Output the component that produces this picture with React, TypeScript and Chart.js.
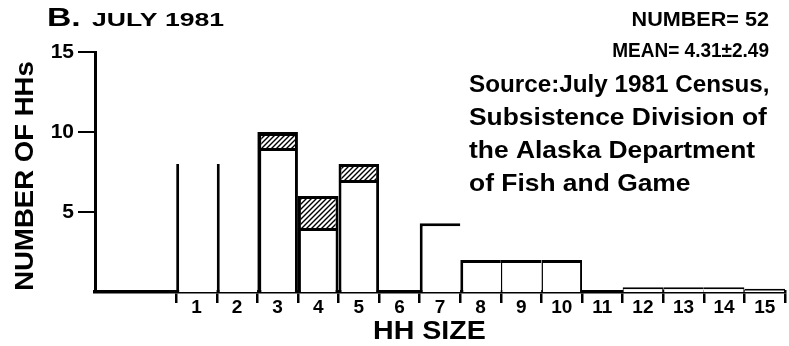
import React, { useEffect, useRef } from 'react';
import { Chart, registerables } from 'chart.js';

Chart.register(...registerables);

// ---- data ----
const hhSizes = ['1', '2', '3', '4', '5', '6', '7', '8', '9', '10', '11', '12', '13', '14', '15'];
const leadingBins = ['', ''];
const plainCounts = [8, 8, 9, 4, 7, 0, 4.3, 2, 2, 2, 0, 0.3, 0.3, 0.3, 0.2];
const hatchedCounts = [0, 0, 1, 2, 1, 0, 0, 0, 0, 0, 0, 0, 0, 0, 0];
const yTickValues = [5, 10, 15];

const titleLetter = 'B.';
const titleText = 'JULY 1981';
const statLines = ['NUMBER= 52', 'MEAN= 4.31±2.49'];
const sourceLines = ['Source:July 1981 Census,', 'Subsistence Division of', 'the Alaska Department', 'of Fish and Game'];
const yTitle = 'NUMBER OF HHs';
const xTitle = 'HH SIZE';

// ---- styles ----
const FONT = '"Liberation Sans", Arial, Helvetica, sans-serif';
type Edges = { left: number; top: number; right: number; bottom: number };
const E = (left: number, top: number, right: number): Edges => ({ left, top, right, bottom: 0 });
const plainEdges: Edges[] = [
  E(3, 0, 0), E(3, 0, 0), E(4, 3, 3), E(3, 3, 3), E(3, 3, 3), E(0, 0, 0), E(3, 3, 0),
  E(3, 3, 0), E(1.5, 3, 0), E(1.5, 3, 2), E(0, 0, 0), E(1, 2, 1), E(1, 2, 0), E(0, 2, 1), E(0, 2, 1),
];
const hatchedEdges: Edges[] = [
  E(0, 0, 0), E(0, 0, 0), E(4, 4, 3), E(3, 3, 3), E(3, 3, 3),
];
const noEdges = E(0, 0, 0);

function makeHatch(): CanvasPattern | string {
  const c = document.createElement('canvas');
  c.width = 5;
  c.height = 5;
  const g = c.getContext('2d');
  if (!g) return '#888';
  g.fillStyle = '#fff';
  g.fillRect(0, 0, 5, 5);
  g.strokeStyle = '#000';
  g.lineWidth = 1.4;
  g.beginPath();
  g.moveTo(0, 5); g.lineTo(5, 0);
  g.moveTo(-1, 1); g.lineTo(1, -1);
  g.moveTo(4, 6); g.lineTo(6, 4);
  g.stroke();
  return g.createPattern(c, 'repeat') || '#888';
}

function drawText(ctx: CanvasRenderingContext2D, text: string, x: number, y: number,
  font: string, align: CanvasTextAlign, sx: number) {
  ctx.save();
  ctx.translate(x, y);
  ctx.scale(sx, 1);
  ctx.font = font;
  ctx.textAlign = align;
  ctx.textBaseline = 'alphabetic';
  ctx.fillText(text, 0, 0);
  ctx.restore();
}

const textPlugin = {
  id: 'scanText',
  afterDraw(chart: any) {
    const ctx: CanvasRenderingContext2D = chart.ctx;
    ctx.save();
    ctx.fillStyle = '#000';
    drawText(ctx, titleLetter, 47, 26, `bold 25px ${FONT}`, 'left', 1.35);
    drawText(ctx, titleText, 92, 26, `bold 19px ${FONT}`, 'left', 1.4);
    drawText(ctx, statLines[0], 769, 26, `bold 20px ${FONT}`, 'right', 1.08);
    drawText(ctx, statLines[1], 769, 57, `bold 20px ${FONT}`, 'right', 0.95);
    sourceLines.forEach((line, i) => {
      drawText(ctx, line, 469, 92 + i * 33, `bold 24px ${FONT}`, 'left', i === 0 ? 1.01 : 1.1);
    });
    drawText(ctx, xTitle, 373, 339, `bold 26px ${FONT}`, 'left', 1.1);
    ctx.save();
    ctx.translate(33, 176);
    ctx.rotate(-Math.PI / 2);
    ctx.scale(1.06, 1);
    ctx.font = `bold 26px ${FONT}`;
    ctx.textAlign = 'center';
    ctx.textBaseline = 'alphabetic';
    ctx.fillText(yTitle, 0, 0);
    ctx.restore();
    ctx.restore();
  },
};

export default function App() {
  const ref = useRef<HTMLCanvasElement | null>(null);
  useEffect(() => {
    if (!ref.current) return;
    const hatch = makeHatch();
    const labels = [...leadingBins, ...hhSizes];
    const pad = leadingBins.map(() => null);
    const plainData = [...pad, ...plainCounts.map((v) => (v > 0 ? v : null))];
    const hatchData = [...pad, ...hatchedCounts.map((v) => (v > 0 ? v : null))];
    const off = leadingBins.length;
    const chart = new Chart(ref.current, {
      type: 'bar',
      data: {
        labels,
        datasets: [
          {
            label: 'Households',
            data: plainData,
            backgroundColor: '#fff',
            borderColor: '#000',
            borderWidth: (c: any) => plainEdges[c.dataIndex - off] || noEdges,
            borderSkipped: false,
            inflateAmount: 0,
            barPercentage: 1,
            categoryPercentage: 1,
          } as any,
          {
            label: 'Hatched',
            data: hatchData,
            backgroundColor: hatch as any,
            borderColor: '#000',
            borderWidth: (c: any) => hatchedEdges[c.dataIndex - off] || noEdges,
            borderSkipped: false,
            inflateAmount: 0,
            barPercentage: 1,
            categoryPercentage: 1,
          } as any,
        ],
      },
      options: {
        animation: false,
        responsive: false,
        devicePixelRatio: 1,
        layout: { padding: { top: 52, right: 4, left: 0, bottom: 0 } },
        plugins: { legend: { display: false }, tooltip: { enabled: false }, title: { display: false } },
        scales: {
          x: {
            type: 'category',
            stacked: true,
            afterFit: (s: any) => { s.height = 54; },
            grid: {
              display: true,
              offset: true,
              drawOnChartArea: false,
              drawTicks: true,
              tickLength: 11,
              lineWidth: 2.5,
              color: (c: any) => (c.index === 0 || c.index === 1 ? 'rgba(0,0,0,0)' : '#000'),
            },
            border: { display: true, width: 3.5, color: '#000' },
            ticks: {
              color: '#000',
              font: { family: FONT, size: 19, weight: 'bold' },
              padding: -7,
              maxRotation: 0,
              autoSkip: false,
            },
          },
          y: {
            type: 'linear',
            stacked: true,
            min: 0,
            max: 15,
            afterFit: (s: any) => { s.width = 95; },
            afterBuildTicks: (s: any) => { s.ticks = yTickValues.map((v) => ({ value: v })); },
            grid: {
              display: true,
              drawOnChartArea: false,
              drawTicks: true,
              tickLength: 17,
              lineWidth: 2,
              color: '#000',
            },
            border: { display: true, width: 3, color: '#000' },
            ticks: {
              color: '#000',
              font: { family: FONT, size: 21, weight: 'bold' },
              padding: 4,
            },
          },
        },
      } as any,
      plugins: [textPlugin],
    });
    return () => chart.destroy();
  }, []);
  return (
    <div style={{ position: 'fixed', left: 0, top: 0, width: 789, height: 346, background: '#fff' }}>
      <canvas ref={ref} width={789} height={346} style={{ width: 789, height: 346, display: 'block' }} />
    </div>
  );
}
